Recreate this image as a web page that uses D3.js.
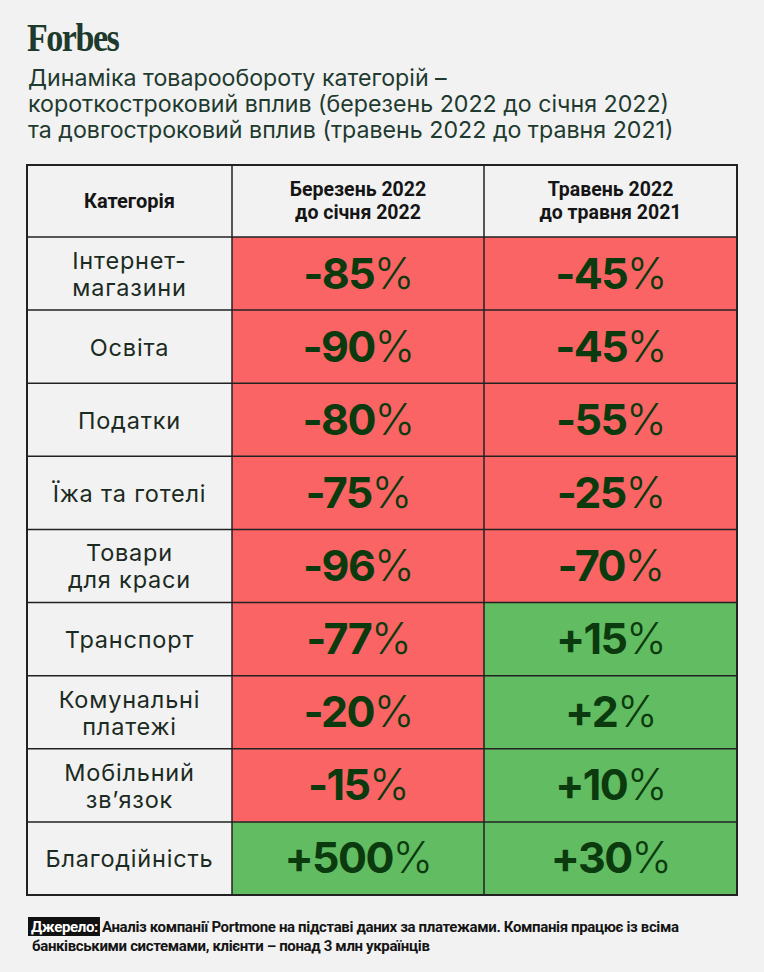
<!DOCTYPE html>
<html>
<head>
<meta http-equiv="Content-Type" content="text/html;charset=utf-8">
<script type="text/javascript" src="https://cdn.jsdelivr.net/npm/d3@7/dist/d3.min.js"></script>
<style>
  body { margin: 0; background: #f2f2f2; }
  svg { display: block; }
</style>
</head>
<body>
<div id="chart"></div>
<script type="text/javascript">

// data
var titleLines = [
  "Динаміка товарообороту категорій –",
  "короткостроковий вплив (березень 2022 до січня 2022)",
  "та довгостроковий вплив (травень 2022 до травня 2021)"
];
var headers = [
  ["Категорія"],
  ["Березень 2022", "до січня 2022"],
  ["Травень 2022", "до травня 2021"]
];
var categories = [
  "Інтернет-\nмагазини",
  "Освіта",
  "Податки",
  "Їжа та готелі",
  "Товари\nдля краси",
  "Транспорт",
  "Комунальні\nплатежі",
  "Мобільний\nзв’язок",
  "Благодійність"
];
var shortTerm = [-85, -90, -80, -75, -96, -77, -20, -15, 500];
var longTerm = [-45, -45, -55, -25, -70, 15, 2, 10, 30];
var sourceLabel = "Джерело:";
var sourceLines = [
  "Аналіз компанії Portmone на підставі даних за платежами. Компанія працює із всіма",
  "банківськими системами, клієнти – понад 3 млн українців"
];

var width = 764, height = 972;
var tableTop = 165, headerBottom = 237, tableBottom = 895;
var colEdges = [27, 232, 484, 737];

var svg = d3.select("#chart").append("svg")
    .attr("width", width)
    .attr("height", height);

svg.append("rect")
    .attr("width", width)
    .attr("height", height)
    .attr("fill", "#f2f2f2");

// logo, a bit condensed and taller like the masthead
svg.append("text")
    .attr("transform", "translate(27,51) scale(0.92,1.08)")
    .attr("font-family", "Liberation Serif, serif")
    .attr("font-weight", "bold")
    .attr("font-size", 37)
    .attr("letter-spacing", -1.6)
    .attr("fill", "#1d3a2c")
    .text("Forbes");

// title
svg.append("g").selectAll("text")
    .data(titleLines)
    .enter().append("text")
    .attr("x", 28)
    .attr("y", function (d, i) { return 86 + i * 26; })
    .attr("font-family", "Inter, sans-serif")
    .attr("font-size", 23.2)
    .attr("fill", "#1f3a2f")
    .text(function (d) { return d; });

var y = d3.scaleBand()
    .domain(d3.range(categories.length))
    .range([headerBottom, tableBottom]);

var colCenter = function (c) { return (colEdges[c] + colEdges[c + 1]) / 2; };

var fillFor = function (v) { return v < 0 ? "#fa6464" : "#62bd62"; };

// header
var head = svg.append("g");
head.append("rect")
    .attr("x", colEdges[0])
    .attr("y", tableTop)
    .attr("width", colEdges[3] - colEdges[0])
    .attr("height", headerBottom - tableTop)
    .attr("fill", "#f2f2f2");

headers.forEach(function (lines, c) {
  var t = head.append("text")
      .attr("x", colCenter(c))
      .attr("text-anchor", "middle")
      .attr("font-family", "Roboto, sans-serif")
      .attr("font-weight", "bold")
      .attr("font-size", c === 0 ? 20 : 19.5)
      .attr("fill", "#151515");
  lines.forEach(function (l, i) {
    t.append("tspan")
        .attr("x", colCenter(c))
        .attr("y", lines.length === 1 ? 208 : 196 + i * 23)
        .text(l);
  });
});

// body rows
var rows = svg.append("g").selectAll("g.row")
    .data(categories)
    .enter().append("g")
    .attr("class", "row")
    .attr("transform", function (d, i) { return "translate(0," + y(i) + ")"; });

rows.append("rect")
    .attr("x", colEdges[0])
    .attr("width", colEdges[1] - colEdges[0])
    .attr("height", y.bandwidth())
    .attr("fill", "#f2f2f2");

rows.append("rect")
    .attr("x", colEdges[1])
    .attr("width", colEdges[2] - colEdges[1])
    .attr("height", y.bandwidth())
    .attr("fill", function (d, i) { return fillFor(shortTerm[i]); });

rows.append("rect")
    .attr("x", colEdges[2])
    .attr("width", colEdges[3] - colEdges[2])
    .attr("height", y.bandwidth())
    .attr("fill", function (d, i) { return fillFor(longTerm[i]); });

rows.each(function (d, i) {
  var g = d3.select(this);
  var lines = d.split("\n");
  var t = g.append("text")
      .attr("text-anchor", "middle")
      .attr("font-family", "Inter, sans-serif")
      .attr("font-size", 23.5)
      .attr("letter-spacing", 0.8)
      .attr("fill", "#1c2b22");
  lines.forEach(function (l, k) {
    t.append("tspan")
        .attr("x", colCenter(0))
        .attr("y", y.bandwidth() / 2 + 9 + (k - (lines.length - 1) / 2) * 27)
        .text(l);
  });

  [shortTerm[i], longTerm[i]].forEach(function (v, c) {
    var n = g.append("text")
        .attr("x", colCenter(c + 1))
        .attr("y", y.bandwidth() / 2 + 15)
        .attr("text-anchor", "middle")
        .attr("font-family", "Inter, sans-serif")
        .attr("font-size", 43)
        .attr("letter-spacing", -1.6)
        .attr("fill", "#0c3a0f");
    n.append("tspan")
        .attr("font-weight", "bold")
        .text((v > 0 ? "+" : "-") + Math.abs(v));
    n.append("tspan")
        .attr("font-weight", 300)
        .text("%");
  });
});

// grid lines
var grid = svg.append("g")
    .attr("stroke", "#222")
    .attr("stroke-width", 1.5);

grid.selectAll("line.h")
    .data([headerBottom].concat(d3.range(1, categories.length).map(function (i) { return y(i); })))
    .enter().append("line")
    .attr("x1", colEdges[0]).attr("x2", colEdges[3])
    .attr("y1", function (d) { return d; })
    .attr("y2", function (d) { return d; });

grid.selectAll("line.v")
    .data([colEdges[1], colEdges[2]])
    .enter().append("line")
    .attr("x1", function (d) { return d; })
    .attr("x2", function (d) { return d; })
    .attr("y1", tableTop).attr("y2", tableBottom);

grid.append("rect")
    .attr("x", colEdges[0])
    .attr("y", tableTop)
    .attr("width", colEdges[3] - colEdges[0])
    .attr("height", tableBottom - tableTop)
    .attr("fill", "none")
    .attr("stroke-width", 2);

// source
var src = svg.append("g")
    .attr("font-family", "Roboto, sans-serif")
    .attr("font-weight", "bold")
    .attr("font-size", 15)
    .attr("letter-spacing", -0.35);

var lbl = src.append("text")
    .attr("x", 31)
    .attr("y", 932)
    .attr("fill", "#fff")
    .text(sourceLabel);
var lw = lbl.node().getComputedTextLength();
src.insert("rect", "text")
    .attr("x", 28)
    .attr("y", 917)
    .attr("width", lw + 5)
    .attr("height", 19)
    .attr("fill", "#111");

src.selectAll("text.line")
    .data(sourceLines)
    .enter().append("text")
    .attr("class", "line")
    .attr("x", function (d, i) { return i === 0 ? 28 + lw + 7 : 32; })
    .attr("y", function (d, i) { return 932 + i * 19; })
    .attr("fill", "#151515")
    .text(function (d) { return d; });

</script>
</body>
</html>
